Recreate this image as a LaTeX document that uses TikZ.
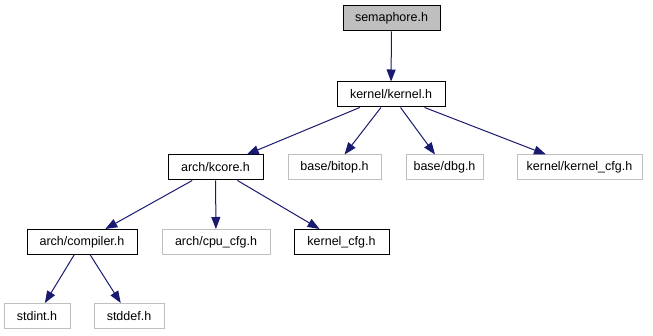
\documentclass[tikz,border=0pt]{standalone}
\usepackage{fontspec}
\setmainfont{Liberation Sans}
\usetikzlibrary{arrows.meta}
\definecolor{edgeblue}{HTML}{191970}
\definecolor{extgray}{HTML}{BFBFBF}
\tikzset{
  filebox/.style={draw=black, line width=1pt, fill=white, minimum height=25pt,
    inner sep=0pt, font=\fontsize{12.5}{15}\selectfont},
  extbox/.style={filebox, draw=extgray},
  rootbox/.style={filebox, fill=extgray},
  dep/.style={draw=edgeblue, line width=1pt,
    -{Triangle[length=12pt,width=9pt,fill=edgeblue]}}
}
\begin{document}
\begin{tikzpicture}[x=1pt,y=-1pt]
  \useasboundingbox (0,0) rectangle (653,336);
  % header and its includes
  \node[rootbox, minimum width=97pt]  (sem)    at (391.5,18.5) {semaphore.h};
  \node[filebox, minimum width=108pt] (kernel) at (391,94.5)   {kernel/kernel.h};
  \node[filebox, minimum width=95pt]  (kcore)  at (215.5,167.5) {arch/kcore.h};
  \node[extbox,  minimum width=93pt]  (bitop)  at (334.5,167.5) {base/bitop.h};
  \node[extbox,  minimum width=77pt]  (dbg)    at (444.5,167.5) {base/dbg.h};
  \node[extbox,  minimum width=125pt] (kkcfg)  at (579.5,167.5) {kernel/kernel\_cfg.h};
  \node[filebox, minimum width=110pt] (comp)   at (82,242)     {arch/compiler.h};
  \node[extbox,  minimum width=108pt] (cpucfg) at (216,242)    {arch/cpu\_cfg.h};
  \node[filebox, minimum width=95pt]  (kcfg)   at (341.5,242)  {kernel\_cfg.h};
  \node[extbox,  minimum width=66pt]  (stdint) at (37,316)     {stdint.h};
  \node[extbox,  minimum width=70pt]  (stddef) at (129,316)    {stddef.h};
  % include edges
  \draw[dep] (sem) -- (kernel);
  \draw[dep] (kernel) -- (kcore);
  \draw[dep] (kernel) -- (bitop);
  \draw[dep] (kernel) -- (dbg);
  \draw[dep] (kernel) -- (kkcfg);
  \draw[dep] (kcore) -- (comp);
  \draw[dep] (kcore) -- (cpucfg);
  \draw[dep] (kcore) -- (kcfg);
  \draw[dep] (comp) -- (stdint);
  \draw[dep] (comp) -- (stddef);
\end{tikzpicture}
\end{document}
